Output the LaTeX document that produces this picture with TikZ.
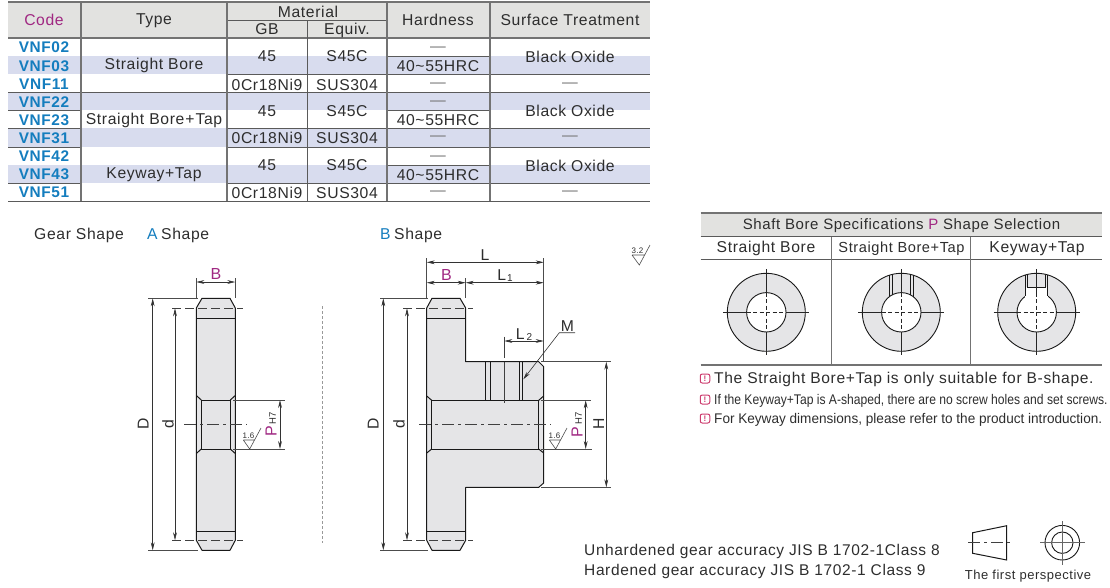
\documentclass[tikz,border=0pt]{standalone}
\usepackage{fontspec}
\setmainfont[LetterSpace=4]{Liberation Sans}
\newfontfamily\narrowf[LetterSpace=0,FakeStretch=0.865]{Liberation Sans}
\newfontfamily\midf[LetterSpace=0,FakeStretch=0.97]{Liberation Sans}
\usetikzlibrary{arrows.meta}
\definecolor{hdr}{RGB}{226,226,224}
\definecolor{band}{RGB}{216,220,238}
\definecolor{rl}{RGB}{90,90,90}
\definecolor{txt}{RGB}{45,45,45}
\definecolor{code}{RGB}{20,125,190}
\definecolor{purp}{RGB}{160,40,130}
\definecolor{ablue}{RGB}{20,125,190}
\definecolor{bodyc}{RGB}{229,229,231}
\definecolor{pink}{RGB}{205,60,110}
\tikzset{
 x=1pt,y=-1pt,
 rule/.style={draw=rl,line width=0.7pt},
 thick rule/.style={draw=rl!85,line width=1.2pt},
 cell/.style={font=\fontsize{15.7}{17}\selectfont,text=txt,inner sep=0pt,anchor=center,text height=11.2pt,text depth=0pt},
 codecell/.style={font=\fontsize{15.4}{17}\selectfont\bfseries,text=code,inner sep=0pt,anchor=center,text height=11pt,text depth=0pt},
 dashcell/.style={cell,text=black!55},
 outline/.style={draw=black!90,line width=1pt,fill=bodyc,line join=round},
 edge/.style={draw=black!90,line width=1pt},
 dim/.style={draw=black!80,line width=0.6pt,{Stealth[length=8pt,width=3.8pt]}-{Stealth[length=8pt,width=3.8pt]}},
 ext/.style={draw=black!70,line width=0.6pt},
 cdash/.style={draw=black!75,line width=0.6pt,dash pattern=on 12pt off 4pt on 3pt off 4pt},
 pdash/.style={draw=black!75,line width=0.6pt,dash pattern=on 9pt off 4pt},
 lab/.style={font=\fontsize{15.7}{17}\selectfont,text=txt,inner sep=0pt,text height=11.2pt,text depth=0pt},
 plab/.style={font=\fontsize{16}{17}\selectfont,text=purp,inner sep=0pt,text height=11.2pt,text depth=0pt},
 tiny/.style={font=\fontsize{8}{9}\selectfont,text=txt,inner sep=0pt},
 note/.style={inner sep=0pt,anchor=west,text=txt,text height=11pt,text depth=0pt},
 warnbox/.style={draw=pink,line width=1pt,rounded corners=2pt,minimum width=9.5pt,minimum height=9pt,inner sep=0pt,text=pink,font=\fontsize{8}{8}\selectfont\bfseries},
}
\begin{document}
\begin{tikzpicture}
\useasboundingbox (0,0) rectangle (1110,587);
% ---- main table ----
\fill[hdr] (8,2) rectangle (650,38);
\foreach \a/\b in {56/74,92/110,128/147,165/183}{\fill[band] (8,\a) rectangle (650,\b);}
\draw[rule] (227,20) -- (387,20);
\draw[thick rule] (8,2) -- (650,2);
\draw[thick rule] (8,38) -- (650,38);
\foreach \y in {92,201}{\draw[rule] (8,\y) -- (650,\y);}
\foreach \y in {74,128,147,183}{\draw[rule] (227,\y) -- (650,\y);}
\foreach \y in {110,128,147,183}{\draw[rule] (8,\y) -- (81,\y);}
\foreach \y in {56,110,165}{\draw[rule] (387,\y) -- (490,\y);}
\foreach \x in {81,227,387,490}{\draw[thick rule] (\x,2) -- (\x,201);}
\draw[rule] (307,20) -- (307,201);
\node[cell,text=purp] (hcode) at (44,20) {Code};
\node[cell] (htype) at (154,19) {Type};
\node[cell] (hmat) at (308,11.5) {Material};
\node[cell] (hgb) at (267,29) {GB};
\node[cell] (heq) at (347,29) {Equiv.};
\node[cell] (hhard) at (438,20) {Hardness};
\node[cell] (hsurf) at (570,20) {Surface Treatment};
\foreach \n/\t/\y in {c1/VNF02/47.3,c2/VNF03/65.5,c3/VNF11/83.5,c4/VNF22/101.5,c5/VNF23/119.5,c6/VNF31/137.7,c7/VNF42/156,c8/VNF43/174.3,c9/VNF51/192.3}{
 \node[codecell] (\n) at (44,\y) {\t};}
\node[cell] (t1) at (154,64) {Straight Bore};
\node[cell] (t2) at (154,119) {Straight Bore\kern1pt+\kern1pt Tap};
\node[cell] (t3) at (154,173) {Keyway+Tap};
\foreach \n/\y/\z in {a/56/56.7,b/111/111,c/164.5/165.7}{
 \node[cell] (g\n) at (267,\y) {45};
 \node[cell] (s\n) at (347,\y) {S45C};
 \node[cell] (o\n) at (570,\z) {Black Oxide};
}
\foreach \n/\y in {a/84.7,b/137.7,c/192.7}{
 \node[cell] (m\n) at (267,\y) {0Cr18Ni9};
 \node[cell] (u\n) at (347,\y) {SUS304};
 \node[dashcell] (dh\n) at (438,\y-2.5) {—};
 \node[dashcell] (ds\n) at (570,\y-2.5) {—};
}
\foreach \n/\y in {a/46,b/100,c/154.5}{\node[dashcell] (dg\n) at (438,\y) {—};}
\foreach \n/\y in {a/65.7,b/120,c/175}{\node[cell] (h\n) at (438,\y) {40\char`\~55HRC};}
% ---- headings ----
\node[lab,anchor=west] (gs) at (34,234) {Gear Shape};
\node[lab,anchor=west,text=ablue] (as) at (147,234) {A};
\node[lab,anchor=west] (as2) at (161,234) {Shape};
\node[lab,anchor=west,text=ablue] (bs) at (380,234) {B};
\node[lab,anchor=west] (bs2) at (394,234) {Shape};
% ---- A-shape gear ----
\draw[outline] (202,298.3) -- (230,298.3) -- (235.3,308) -- (235.3,540.3) -- (230,550.3) -- (202,550.3) -- (196.3,540.3) -- (196.3,308) -- cycle;
\draw[edge] (196.3,318) -- (235.3,318) (196.3,531) -- (235.3,531);
\draw[edge] (201.3,400) rectangle (230.3,449);
\draw[edge] (196.3,395.5) -- (201.3,400) (235.3,395.5) -- (230.3,400) (196.3,453.5) -- (201.3,449) (235.3,453.5) -- (230.3,449);
\draw[pdash] (172,308.3) -- (243,308.3);
\draw[pdash] (172,540.3) -- (243,540.3);
\draw[cdash] (184,424.3) -- (247,424.3);
\coordinate (aBl) at (196.3,282); \coordinate (aBr) at (235.3,282);
\draw[ext] (196.3,278) -- (196.3,298) (235.3,278) -- (235.3,298);
\draw[dim] (aBl) -- (aBr);
\node[plab] (aB) at (216,274) {B};
\draw[ext] (148,298.3) -- (198,298.3) (148,550.3) -- (198,550.3);
\coordinate (aD1) at (152.7,298.3); \coordinate (aD2) at (152.7,550.3);
\draw[dim] (aD1) -- (aD2);
\node[lab,rotate=90] (aD) at (143,424) {D};
\coordinate (ad1) at (175,308.3); \coordinate (ad2) at (175,540.3);
\draw[dim] (ad1) -- (ad2);
\node[lab,rotate=90] (ad) at (168,424) {d};
\draw[ext] (233,400) -- (285,400) (233,449) -- (285,449);
\coordinate (aP1) at (280,400); \coordinate (aP2) at (280,449);
\draw[dim] (aP1) -- (aP2);
\node[plab,rotate=90] (aP) at (271,431.5) {P};
\node[tiny,rotate=90,font=\fontsize{9.5}{10}\selectfont] (aH7) at (272.5,418) {H7};
\draw[ext] (243.3,440) -- (254.7,440) (243.3,440) -- (249.7,449) -- (261,428);
\node[tiny] (a16) at (248.5,436) {1.6};
% separator
\draw[draw=black!40,line width=0.5pt,dash pattern=on 3pt off 2pt] (322,306) -- (322,543);
% ---- B-shape gear ----
\draw[outline] (432,298.3) -- (460,298.3) -- (465.7,308) -- (465.7,361.7) -- (538.7,361.7) -- (543.7,366.7) -- (543.7,483) -- (538.7,487.3) -- (465.7,487.3) -- (465.7,540.3) -- (460,550.3) -- (432,550.3) -- (426.7,540.3) -- (426.7,308) -- cycle;
\draw[edge] (426.7,318.3) -- (465.7,318.3) (426.7,531) -- (465.7,531);
\draw[edge] (431.7,400.3) rectangle (538.7,449);
\draw[edge] (426.7,396) -- (431.7,400.3) (426.7,453) -- (431.7,449) (543.7,396) -- (538.7,400.3) (543.7,453) -- (538.7,449);
\draw[edge] (485.7,361.7) -- (485.7,400.3) (490,361.7) -- (490,400.3) (519,361.7) -- (519,400.3) (522.7,361.7) -- (522.7,400.3);
\draw[pdash] (403,308.3) -- (473,308.3);
\draw[pdash] (403,540.3) -- (473,540.3);
\draw[cdash] (419,424.3) -- (551,424.3);
\draw[draw=black!75,line width=0.6pt,dash pattern=on 21pt off 4pt on 45pt] (504.3,336.7) -- (504.3,403);
\draw[ext] (426.7,258) -- (426.7,298) (543.7,258) -- (543.7,361) (465.7,278) -- (465.7,298);
\coordinate (bLa) at (426.7,262.3); \coordinate (bLb) at (543.7,262.3);
\draw[dim] (bLa) -- (bLb);
\node[lab] (bL) at (485,255) {L};
\coordinate (bBa) at (426.7,282.7); \coordinate (bBb) at (465.7,282.7); \coordinate (bBc) at (543.7,282.7);
\draw[dim] (bBa) -- (bBb);
\draw[dim] (bBb) -- (bBc);
\node[plab] (bB) at (446.5,274.5) {B};
\node[lab] (bL1) at (505,275) {L\kern1pt\raisebox{-0.5pt}{\fontsize{10}{10}\selectfont 1}};
\coordinate (bLc) at (504.3,341); \coordinate (bLd) at (543.7,341);
\draw[dim] (bLc) -- (bLd);
\node[lab] (bL2) at (524,334) {L\kern2pt\raisebox{-0.5pt}{\fontsize{10}{10}\selectfont 2}};
\node[lab] (bM) at (567.5,326) {M};
\coordinate (bMa) at (575,332.7); \coordinate (bMb) at (559.3,332.7); \coordinate (bMc) at (523.3,379.3);
\draw[draw=black!80,line width=0.6pt,-{Stealth[length=8pt,width=3.8pt]}] (bMa) -- (bMb) -- (bMc);
\draw[ext] (380,298.3) -- (428,298.3) (380,550.3) -- (428,550.3);
\coordinate (bD1) at (383.3,298.3); \coordinate (bD2) at (383.3,550.3);
\draw[dim] (bD1) -- (bD2);
\node[lab,rotate=90] (bD) at (373,424) {D};
\coordinate (bd1) at (407,308.3); \coordinate (bd2) at (407,540.3);
\draw[dim] (bd1) -- (bd2);
\node[lab,rotate=90] (bdd) at (399,424) {d};
\draw[ext] (541,400.3) -- (591,400.3) (541,449) -- (592,449) (541,361.7) -- (611,361.7) (541,487.3) -- (611,487.3);
\coordinate (bP1) at (585.7,400.3); \coordinate (bP2) at (585.7,449);
\draw[dim] (bP1) -- (bP2);
\node[plab,rotate=90] (bP) at (577,431.7) {P};
\node[tiny,rotate=90,font=\fontsize{9.5}{10}\selectfont] (bH7) at (578.5,418) {H7};
\coordinate (bH1) at (606.3,361.7); \coordinate (bH2) at (606.3,487.3);
\draw[dim] (bH1) -- (bH2);
\node[lab,rotate=90] (bH) at (598.5,424) {H};
\draw[ext] (549.3,440) -- (560.7,440) (549.3,440) -- (555.7,449) -- (567,428);
\node[tiny] (b16) at (554.5,436) {1.6};
% 3.2 mark
\draw[ext] (632,255) -- (644,255) (632,255) -- (639.3,265) -- (650,245);
\node[tiny] (m32) at (637.5,251) {3.2};
% ---- right table ----
\fill[hdr] (700.7,213) rectangle (1102,236.7);
\draw[thick rule] (700.7,213) -- (1102,213);
\draw[rule] (700.7,236.7) -- (1102,236.7);
\draw[rule] (700.7,259.3) -- (1102,259.3);
\draw[thick rule] (700.7,365) -- (1102,365);
\draw[thick rule] (831.7,236.7) -- (831.7,365) (970.3,236.7) -- (970.3,365);
\node[cell,font=\fontsize{15}{17}\selectfont] (rt) at (901.5,224) {Shaft Bore Specifications {\color{purp}P} Shape Selection};
\node[cell] (r1) at (766,247) {Straight Bore};
\node[cell,font=\fontsize{14.6}{17}\selectfont] (r2) at (901.5,247) {Straight Bore+Tap};
\node[cell] (r3) at (1037,247) {Keyway+Tap};
\def\cy{312.3}
\foreach \cx in {766.3,901.3,1036.7}{
 \fill[bodyc] (\cx,\cy) circle (39);
 \draw[edge,line width=0.9pt] (\cx,\cy) circle (39);
 \draw[edge,line width=0.9pt,fill=white] (\cx,\cy) circle (19.7);
}
% tap
\draw[edge,line width=0.8pt] (889.3,275.2) -- (889.3,296.7) (892.3,274.4) -- (892.3,294.8) (910.3,274.4) -- (910.3,294.8) (913.3,275.2) -- (913.3,296.7);
% key
\fill[white] (1025,287) rectangle (1047.7,300);
\draw[edge,line width=0.9pt] (1025,296) -- (1025,275.1) (1047.7,296) -- (1047.7,275.1);
\draw[edge,line width=0.8pt] (1027.3,287) -- (1045.7,287) (1027.3,274.6) -- (1027.3,287) (1045.7,274.6) -- (1045.7,287);
\foreach \cx in {766.3,901.3,1036.7}{
 \draw[black!85,line width=0.6pt] (\cx-43,\cy) -- (\cx-19.7,\cy) (\cx+19.7,\cy) -- (\cx+43,\cy) (\cx,\cy-43) -- (\cx,\cy-19.7) (\cx,\cy+19.7) -- (\cx,\cy+43);
 \draw[black!85,line width=0.6pt,dash pattern=on 4pt off 2.5pt] (\cx-19.7,\cy) -- (\cx+19.7,\cy) (\cx,\cy-19.7) -- (\cx,\cy+19.7);
}
% notes
\node[warnbox] (w1) at (705,378.5) {!};
\node[warnbox] (w2) at (705,399.5) {!};
\node[warnbox] (w3) at (705,418.5) {!};
\node[note,font=\fontsize{15.6}{17}\selectfont] (n1) at (714,377.7) {The Straight Bore+Tap is only suitable for B-shape.};
\node[note,font=\fontsize{14}{15}\selectfont\narrowf] (n2) at (714,399.3) {If the Keyway+Tap is A-shaped, there are no screw holes and set screws.};
\node[note,font=\fontsize{14}{15}\selectfont\midf] (n3) at (714,418.3) {For Keyway dimensions, please refer to the product introduction.};
% ---- bottom ----
\node[note,font=\fontsize{15.5}{17}\selectfont] (u1) at (584,549.5) {Unhardened gear accuracy JIS B 1702-1Class 8};
\node[note,font=\fontsize{15.5}{17}\selectfont] (u2) at (584,569.5) {Hardened gear accuracy JIS B 1702-1 Class 9};
\draw[edge,fill=none] (972.7,532.7) -- (1006.7,525.7) -- (1006.7,560) -- (972.7,553.3) -- cycle;
\draw[cdash] (968,542.7) -- (1011.7,542.7);
\draw[edge,line width=0.9pt] (1062.3,542.7) circle (17.3) (1062.3,542.7) circle (10.7);
\draw[black!60,line width=0.6pt] (1040,542.7) -- (1084.6,542.7) (1062.3,521) -- (1062.3,564.5);
\node[cell,font=\fontsize{13}{14}\selectfont,text height=9.3pt] (fp) at (1028,575) {The first perspective};
\end{tikzpicture}
\end{document}
